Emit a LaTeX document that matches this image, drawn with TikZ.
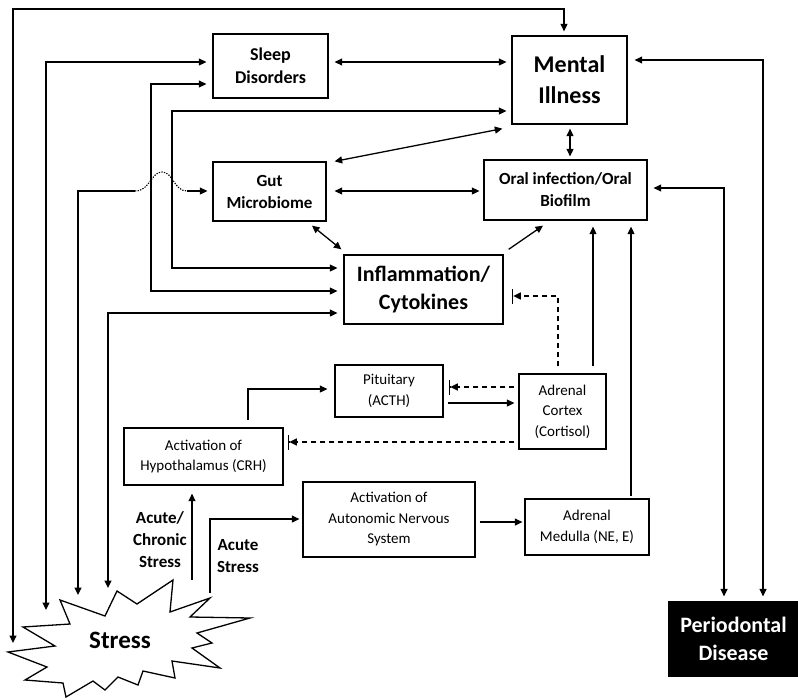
\documentclass[tikz,border=0pt]{standalone}
\usepackage{fontspec}
\setmainfont{Carlito}
\usetikzlibrary{arrows.meta}
\tikzset{
  >={Triangle[length=7.5pt,width=7pt]},
  box/.style={draw, line width=1.3pt, inner sep=0pt, align=center},
  conn/.style={line width=1.3pt},
  dconn/.style={line width=1.3pt, dash pattern=on 5pt off 4pt, -{Triangle[length=7.5pt,width=7pt]Bar[width=15pt,line width=1.6pt]}},
  fbig/.style={font=\fontsize{24}{31}\selectfont\bfseries},
  finf/.style={font=\fontsize{22}{28}\selectfont\bfseries},
  fsleep/.style={font=\fontsize{18}{23}\selectfont\bfseries},
  fgut/.style={font=\fontsize{17}{22}\selectfont\bfseries},
  freg/.style={font=\fontsize{15}{20.5}\selectfont},
}
\begin{document}
\begin{tikzpicture}[x=1pt,y=-1pt]
\useasboundingbox (0,0) rectangle (798,699);
% boxes
\node[box,fsleep,minimum width=115pt,minimum height=64pt] (sleep) at (270.5,66) {Sleep\\Disorders};
\node[box,fbig,minimum width=115pt,minimum height=88pt] (mental) at (569.5,80) {Mental\\Illness};
\node[box,fgut,minimum width=113pt,minimum height=59pt] (gut) at (269.5,191.5) {Gut\\Microbiome};
\node[box,fgut,minimum width=163pt,minimum height=60pt] (oral) at (565.5,190) {Oral infection/Oral\\Biofilm};
\node[box,finf,minimum width=159pt,minimum height=69pt] (infl) at (423.5,289.5) {Inflammation/\\Cytokines};
\node[box,freg,minimum width=108pt,minimum height=52pt] (pit) at (389,391) {Pituitary\\(ACTH)};
\node[box,freg,minimum width=87pt,minimum height=75pt] (cortex) at (562.5,411.5) {Adrenal\\Cortex\\(Cortisol)};
\node[box,freg,minimum width=159pt,minimum height=57pt] (hyp) at (203.5,456.5) {Activation of\\Hypothalamus (CRH)};
\node[box,freg,minimum width=172pt,minimum height=75pt] (ans) at (389,519.5) {Activation of\\Autonomic Nervous\\System};
\node[box,freg,minimum width=124pt,minimum height=56pt] (medulla) at (587,527) {Adrenal\\Medulla (NE, E)};
\node[box,fill=black,text=white,finf,minimum width=129pt,minimum height=74pt] (perio) at (733.5,639) {Periodontal\\Disease};
% stress star
\draw[line width=1.3pt,fill=white] (220,668) -- (172,661) -- (175,678) -- (143,671) -- (138,685) -- (118,677) -- (105,690) -- (93,681) -- (66,697) -- (63,683) -- (25,680) -- (47,667) -- (8,652) -- (55,646) -- (23,627) -- (70,624) -- (60,600) -- (105,616) -- (117,591) -- (137,604) -- (173,580) -- (170,612) -- (210,598) -- (190,617) -- (250,618) -- (197,633) -- (212,643) -- (192,648) -- cycle;
\node[font=\fontsize{25}{30}\selectfont\bfseries] (stress) at (120,640) {Stress};
% labels
\node[fgut,align=center] (lab1) at (160,539.5) {Acute/\\Chronic\\Stress};
\node[fgut,align=center] (lab2) at (238,556.5) {Acute\\Stress};
% free ends near stress
\coordinate (sL1) at (13,643);
\coordinate (sL2) at (46,610);
\coordinate (sL3) at (78,595);
\coordinate (sL4) at (108,588);
\coordinate (sS1) at (192,580);
\coordinate (sS2) at (210,593);
\coordinate (h1) at (135,191);
\coordinate (h2) at (187,191);
% connectors
\draw[conn,<->] (sL1) -- (13,9) -| ([xshift=-5.5pt,yshift=4pt]mental.north);
\draw[conn,<->] (sL2) |- ([xshift=-6pt,yshift=4pt]sleep.west);
\draw[conn,<->] ([xshift=6pt,yshift=4pt]sleep.east) -- ([xshift=-5pt,yshift=18pt]mental.west);
\draw[conn,<->] ([xshift=-6pt,yshift=-18pt]sleep.west) -- (151,84) |- ([xshift=-6pt,yshift=-1.5pt]infl.west);
\draw[conn,<->] ([xshift=-5pt,yshift=-31pt]mental.west) -- (172,111) |- ([xshift=-6pt,yshift=21.5pt]infl.west);
\draw[conn,<->] ([xshift=8pt]gut.north east) -- ([xshift=-9pt,yshift=-4pt]mental.south west);
\draw[conn,<->] ([xshift=8pt,yshift=0.5pt]gut.east) -- ([xshift=-4pt,yshift=-1pt]oral.west);
\draw[conn,<->] ([xshift=0.5pt,yshift=-4pt]mental.south) -- ([xshift=4.5pt,yshift=3pt]oral.north);
\draw[conn,<->] ([xshift=42.5pt,yshift=-4pt]gut.south) -- ([xshift=-2pt,yshift=5pt]infl.north west);
\draw[conn,->] ([xshift=5pt,yshift=5pt]infl.north east) -- ([xshift=-22.5pt,yshift=-5pt]oral.south);
\draw[conn,<-] (sL3) |- (h1);
\draw[line width=1.1pt,dash pattern=on 1.3pt off 1.3pt] (h1) .. controls (150,191) and (151,172) .. (162,172) .. controls (173,172) and (174,191) .. (h2);
\draw[conn,->] (h2) -- ([xshift=-5pt,yshift=0.5pt]gut.west);
\draw[conn,<->] (sL4) |- ([xshift=-6pt,yshift=-23.5pt]infl.west);
\draw[conn,<->] ([xshift=7pt,yshift=20pt]mental.east) -| ([xshift=29.5pt,yshift=5pt]perio.north);
\draw[conn,<->] ([xshift=6pt,yshift=2pt]oral.east) -| ([xshift=-9.5pt,yshift=5pt]perio.north);
\draw[conn,->] ([xshift=30.5pt,yshift=7pt]cortex.north) -- ([xshift=27.5pt,yshift=-6pt]oral.south);
\draw[conn,->] ([xshift=44pt,yshift=2pt]medulla.north) -- ([xshift=65.5pt,yshift=-6pt]oral.south);
\draw[dconn] ([xshift=-4.5pt,yshift=7pt]cortex.north) |- ([xshift=8pt,yshift=-6.5pt]infl.east);
\draw[dconn] ([xshift=-4pt,yshift=24.5pt]cortex.west) -- ([xshift=5pt,yshift=4pt]pit.east);
\draw[conn,->] ([xshift=4pt,yshift=-12pt]pit.east) -- ([xshift=-4pt,yshift=8.5pt]cortex.west);
\draw[dconn] ([xshift=-4pt,yshift=-30.5pt]cortex.west) -- ([xshift=4pt,yshift=14.5pt]hyp.east);
\draw[conn,->] ([xshift=44.5pt,yshift=7pt]hyp.north) |- ([xshift=-7pt,yshift=2pt]pit.west);
\draw[conn,->] (sS1) -- ([xshift=-11.5pt,yshift=-8pt]hyp.south);
\draw[conn,->] (sS2) |- ([xshift=-3pt,yshift=0.5pt]ans.west);
\draw[conn,->] ([xshift=4pt,yshift=-2.5pt]ans.east) -- ([xshift=-2pt,yshift=5pt]medulla.west);
\end{tikzpicture}
\end{document}
